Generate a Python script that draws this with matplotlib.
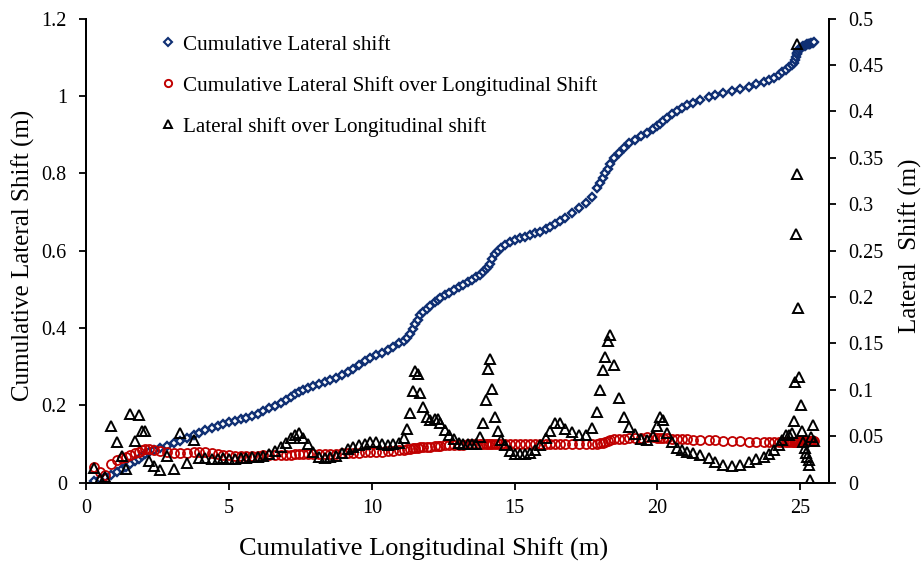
import matplotlib

matplotlib.use("Agg")
import matplotlib.pyplot as plt
from matplotlib.lines import Line2D

# longitudinal position of each measurement (m)
long_shift = [
    0.26, 0.49, 0.66, 0.86, 1.07, 1.25, 1.40, 1.54, 1.72, 1.83, 1.95, 2.07, 2.18, 2.36, 2.59, 2.82,
    3.08, 3.29, 3.53, 3.76, 3.96, 4.17,
    4.40, 4.60, 4.80, 5.00, 5.20, 5.40, 5.60, 5.80, 6.00, 6.20, 6.40, 6.60, 6.80, 7.00, 7.15, 7.30,
    7.45, 7.60, 7.75, 7.95, 8.15, 8.35, 8.55, 8.75, 8.95, 9.15, 9.35, 9.55, 9.75, 9.95, 10.15,
    10.35, 10.55, 10.75, 10.94, 11.11, 11.23, 11.34, 11.43, 11.52, 11.60, 11.70, 11.79, 11.93, 12.04,
    12.20, 12.30, 12.40, 12.57, 12.69, 12.86, 13.04, 13.20, 13.36, 13.52, 13.66,
    13.77, 13.89, 14.00, 14.05, 14.12, 14.20, 14.30, 14.40, 14.52, 14.67, 14.85,
    15.02, 15.20, 15.37, 15.55, 15.72, 15.90, 16.10, 16.25, 16.42, 16.60, 16.77, 17.00, 17.24, 17.50, 17.70,
    17.88, 18.00, 18.09, 18.17, 18.26, 18.35, 18.49, 18.64, 18.81, 18.99, 19.20, 19.42, 19.64, 19.84,
    19.98, 20.10, 20.21, 20.33, 20.50, 20.68, 20.86, 21.05, 21.26, 21.50, 21.80, 22.02, 22.31, 22.60,
    22.90, 23.19, 23.46, 23.72, 23.89, 24.07, 24.24, 24.36, 24.50, 24.62, 24.72,
    24.77, 24.80, 24.84, 24.87, 24.90, 24.93, 24.97, 25.01, 25.05, 25.10, 25.15, 25.20, 25.25, 25.29,
    25.32, 25.34, 25.38, 25.43, 25.47,
]

# cumulative lateral shift (m), left axis
cum_lateral = [
    0.003, 0.008, 0.013, 0.020, 0.028, 0.034, 0.041, 0.048, 0.056, 0.062, 0.068, 0.074, 0.078, 0.083, 0.089, 0.095,
    0.102, 0.108, 0.116, 0.123, 0.129, 0.135,
    0.140, 0.146, 0.151, 0.157, 0.160, 0.164, 0.168, 0.172, 0.178, 0.185, 0.193, 0.199, 0.205, 0.213, 0.220, 0.228,
    0.235, 0.240, 0.245, 0.250, 0.255, 0.260, 0.264, 0.270, 0.278, 0.285, 0.294, 0.303, 0.313, 0.322, 0.330,
    0.336, 0.343, 0.351, 0.360, 0.367, 0.373, 0.385, 0.397, 0.410, 0.421, 0.432, 0.440, 0.449, 0.456,
    0.466, 0.472, 0.478, 0.486, 0.491, 0.498, 0.505, 0.512, 0.518, 0.525, 0.532,
    0.537, 0.545, 0.553, 0.558, 0.566, 0.577, 0.590, 0.600, 0.607, 0.615, 0.622,
    0.628, 0.632, 0.636, 0.640, 0.644, 0.648, 0.655, 0.661, 0.668, 0.677, 0.685, 0.697, 0.710, 0.724, 0.738,
    0.762, 0.775, 0.788, 0.800, 0.812, 0.825, 0.840, 0.853, 0.866, 0.877, 0.886, 0.895, 0.905, 0.915,
    0.922, 0.928, 0.935, 0.942, 0.952, 0.961, 0.969, 0.976, 0.982, 0.990, 0.998, 1.003, 1.008, 1.013,
    1.018, 1.024, 1.030, 1.036, 1.041, 1.047, 1.055, 1.062, 1.068, 1.074, 1.080,
    1.085, 1.092, 1.100, 1.107, 1.112, 1.117, 1.121, 1.124, 1.126, 1.128, 1.130, 1.132, 1.133, 1.134,
    1.135, 1.135, 1.136, 1.137, 1.138,
]

# cumulative lateral shift over longitudinal shift, right axis
cum_ratio = [
    0.017, 0.0115, 0.008, 0.020, 0.024, 0.026, 0.028, 0.030, 0.032, 0.033, 0.035, 0.036, 0.036, 0.035, 0.034, 0.033,
    0.032, 0.032, 0.032, 0.033, 0.033, 0.033,
    0.032, 0.031, 0.030, 0.030, 0.029, 0.029, 0.029, 0.029, 0.029, 0.030, 0.030, 0.030, 0.030, 0.030, 0.030, 0.031,
    0.031, 0.031, 0.031, 0.031, 0.031, 0.031, 0.031, 0.031, 0.032, 0.032, 0.032, 0.032, 0.033, 0.033, 0.033,
    0.033, 0.034, 0.034, 0.035, 0.035, 0.036, 0.036, 0.037, 0.037, 0.037, 0.038, 0.038, 0.038, 0.038,
    0.039, 0.039, 0.039, 0.040, 0.040, 0.040, 0.040, 0.040, 0.041, 0.041, 0.041,
    0.041, 0.041, 0.041, 0.041, 0.041, 0.041, 0.041, 0.041, 0.041, 0.041, 0.041,
    0.041, 0.041, 0.041, 0.041, 0.041, 0.041, 0.041, 0.041, 0.041, 0.041, 0.041, 0.041, 0.042, 0.042, 0.042,
    0.042, 0.043, 0.043, 0.044, 0.045, 0.046, 0.047, 0.047, 0.047, 0.048, 0.048, 0.048, 0.049, 0.049,
    0.048, 0.048, 0.048, 0.048, 0.047, 0.047, 0.047, 0.047, 0.046, 0.046, 0.046, 0.046, 0.045, 0.045,
    0.045, 0.044, 0.044, 0.044, 0.044, 0.044, 0.044, 0.044, 0.044, 0.044, 0.044,
    0.044, 0.044, 0.044, 0.0445, 0.0447, 0.0448, 0.045, 0.045, 0.045, 0.045, 0.045, 0.045, 0.045, 0.045,
    0.045, 0.045, 0.045, 0.045, 0.045,
]

# lateral shift over longitudinal shift, right axis
step_ratio = [
    0.016, 0.004, 0.006, 0.061, 0.044, 0.029, 0.015, 0.074, 0.045, 0.073, 0.055, 0.055, 0.023, 0.018, 0.014, 0.029,
    0.015, 0.053, 0.021, 0.046, 0.026, 0.026,
    0.025, 0.025, 0.026, 0.025, 0.025, 0.026, 0.026, 0.027, 0.028, 0.029, 0.031, 0.034, 0.038, 0.043, 0.048, 0.051,
    0.053, 0.048, 0.042, 0.033, 0.027, 0.026, 0.027, 0.029, 0.032, 0.036, 0.038, 0.040, 0.042, 0.044, 0.044,
    0.041, 0.040, 0.041, 0.043, 0.048, 0.058, 0.075, 0.099, 0.120, 0.117, 0.096, 0.081, 0.071, 0.067,
    0.068, 0.068, 0.064, 0.057, 0.051, 0.047, 0.043, 0.041, 0.041, 0.041, 0.041,
    0.049, 0.064, 0.089, 0.122, 0.133, 0.101, 0.071, 0.056, 0.046, 0.040, 0.034,
    0.031, 0.031, 0.031, 0.032, 0.035, 0.040, 0.048, 0.056, 0.064, 0.064, 0.058, 0.054, 0.051, 0.051, 0.059,
    0.076, 0.100, 0.121, 0.135, 0.152, 0.159, 0.127, 0.091, 0.071, 0.060, 0.052, 0.047, 0.046, 0.050,
    0.061, 0.071, 0.067, 0.053, 0.044, 0.037, 0.035, 0.033, 0.032, 0.030, 0.026, 0.022, 0.019, 0.018,
    0.019, 0.022, 0.025, 0.028, 0.031, 0.035, 0.040, 0.046, 0.051, 0.051, 0.053,
    0.066, 0.108, 0.268, 0.472, 0.332, 0.188, 0.114, 0.083, 0.056, 0.044, 0.037, 0.032, 0.028, 0.024,
    0.019, 0.0025, 0.049, 0.062, 0.045,
]

x_ticks = [0, 5, 10, 15, 20, 25]
left_ticks = [0, 0.2, 0.4, 0.6, 0.8, 1, 1.2]
left_tick_labels = ["0", "0.2", "0.4", "0.6", "0.8", "1", "1.2"]
right_ticks = [0, 0.05, 0.1, 0.15, 0.2, 0.25, 0.3, 0.35, 0.4, 0.45, 0.5]
right_tick_labels = ["0", "0.05", "0.1", "0.15", "0.2", "0.25", "0.3", "0.35", "0.4", "0.45", "0.5"]

labels = [
    "Cumulative Lateral shift",
    "Cumulative Lateral Shift over Longitudinal Shift",
    "Lateral shift over Longitudinal shift",
]

BLUE = "#0f2f73"
RED = "#c00000"

plt.rcParams["font.family"] = ["Liberation Serif", "DejaVu Serif"]

fig = plt.figure(figsize=(9.23, 5.66), dpi=100)
ax = fig.add_axes([0.0935, 0.1475, 0.8045, 0.8198])
ax2 = ax.twinx()

ax.plot(long_shift, cum_lateral, linestyle="none", marker="D", ms=4.4,
        mfc="white", mec=BLUE, mew=1.7)
ax2.plot(long_shift, cum_ratio, linestyle="none", marker="o", ms=6.5,
         mfc="none", mec=RED, mew=1.3)
ax2.plot(long_shift, step_ratio, linestyle="none", marker="^", ms=6.5,
         mfc="none", mec="black", mew=1.4)

ax.set_xlim(0, 26)
ax.set_ylim(0, 1.2)
ax2.set_ylim(0, 0.5)
ax.set_xticks(x_ticks)
ax.set_xticklabels([str(v) for v in x_ticks])
ax.set_yticks(left_ticks)
ax.set_yticklabels(left_tick_labels)
ax2.set_yticks(right_ticks)
ax2.set_yticklabels(right_tick_labels)

for a in (ax, ax2):
    a.spines["top"].set_visible(False)
    for s in a.spines.values():
        s.set_linewidth(1.4)
    a.tick_params(direction="out", length=5, width=1.3, labelsize=14.5)
ax.tick_params(axis="x", pad=7)
ax.tick_params(axis="y", pad=9)
ax2.tick_params(axis="y", pad=9)

ax.set_xlabel("Cumulative Longitudinal Shift (m)", fontsize=19)
ax.xaxis.set_label_coords(0.4536, -0.118)
ax.set_ylabel("Cumulative Lateral Shift (m)", fontsize=18)
ax.yaxis.set_label_coords(-0.069, 0.49)
ax2.set_ylabel("Lateral  Shift (m)", fontsize=18, rotation=90)
ax2.yaxis.set_label_coords(1.094, 0.51)

handles = [
    Line2D([], [], linestyle="none", marker="D", ms=3.6, mfc="white", mec=BLUE, mew=1.5),
    Line2D([], [], linestyle="none", marker="o", ms=5.2, mfc="none", mec=RED, mew=1.4),
    Line2D([], [], linestyle="none", marker="^", ms=5.2, mfc="none", mec="black", mew=1.4),
]
ax2.legend(handles, labels, loc="upper left", bbox_to_anchor=(0.076, 1.006), frameon=False,
           fontsize=15.2, handlelength=0.6, handletextpad=0.4, labelspacing=1.0)

fig.savefig("out.png", dpi=100)
